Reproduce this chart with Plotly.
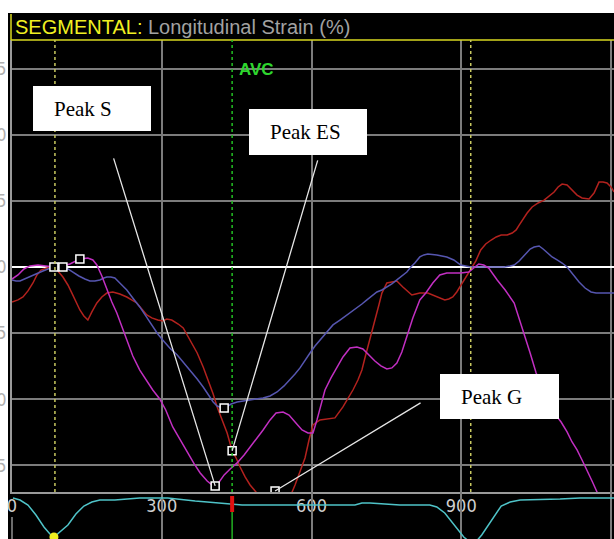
import plotly.graph_objects as go

# ---- segmental longitudinal strain traces (time in ms, strain in %) ----
red_t = [0, 12, 22, 32, 42, 50, 58, 70, 82, 92, 102, 112, 120, 128, 136, 144, 152, 160, 170, 180,
         190, 202, 216, 230, 240, 250, 260, 270, 280, 292, 302, 310, 320, 333, 343, 357, 371, 383,
         393, 403, 411, 421, 431, 441, 449, 457, 467, 477, 487, 497, 509, 527, 547, 557, 567, 577,
         587, 595, 603, 617, 633, 647, 663, 673, 683, 693, 701, 707, 713, 721, 727, 735, 741, 751,
         761, 771, 783, 793, 801, 809, 817, 833, 851, 867, 875, 883, 891, 897, 907, 919, 929, 939,
         949, 960, 970, 980, 992, 1002, 1010, 1016, 1022, 1032, 1042, 1054, 1066, 1076, 1086, 1094,
         1102, 1112, 1122, 1132, 1142, 1156, 1166, 1176, 1184, 1192, 1200, 1206]
red_v = [-2.65, -2.49, -2.27, -1.81, -1.21, -0.60, -0.23, -0.08, 0.0, -0.30, -0.76, -1.36, -1.97,
         -2.65, -3.25, -3.70, -4.01, -3.40, -2.72, -2.27, -1.97, -1.89, -2.04, -2.27, -2.49, -2.72,
         -3.17, -3.63, -3.85, -4.01, -4.08, -3.93, -4.01, -4.31, -4.61, -5.52, -6.50, -7.56, -8.54,
         -9.60, -10.58, -11.56, -12.55, -13.90, -14.44, -15.12, -15.87, -16.48, -16.93, -17.38,
         -17.76, -17.99, -17.84, -17.38, -16.48, -15.49, -14.44, -13.08, -11.94, -11.56, -11.49,
         -11.41, -10.58, -9.98, -9.30, -8.54, -7.79, -6.88, -6.05, -4.99, -4.01, -2.87, -1.97,
         -1.21, -1.13, -1.06, -1.51, -1.89, -2.12, -2.04, -1.97, -1.97, -2.27, -2.49, -2.42, -2.27,
         -1.89, -1.51, -0.98, -0.15, 0.45, 1.29, 1.74, 2.04, 2.27, 2.42, 2.42, 2.57, 2.80, 3.17,
         3.55, 4.08, 4.54, 4.84, 5.06, 5.37, 5.67, 6.05, 6.27, 6.20, 5.82, 5.44, 5.22, 5.14, 5.59,
         6.42, 6.42, 6.35, 6.05, 5.67]

blue_t = [0, 8, 16, 26, 36, 48, 62, 72, 82, 102, 112, 122, 134, 146, 156, 166, 176, 184, 190, 198,
          206, 218, 230, 242, 256, 268, 282, 292, 302, 316, 331, 345, 357, 371, 383, 393, 403, 411,
          421, 429, 439, 451, 463, 477, 491, 503, 517, 531, 545, 557, 567, 577, 587, 597, 607, 617,
          631, 643, 657, 671, 681, 691, 701, 711, 721, 731, 741, 751, 761, 771, 781, 791, 799, 807,
          817, 825, 833, 851, 871, 885, 899, 909, 919, 937, 968, 986, 998, 1006, 1016, 1030, 1038,
          1046, 1056, 1064, 1072, 1082, 1092, 1102, 1112, 1124, 1136, 1148, 1160, 1170, 1180, 1192,
          1206]
blue_v = [-0.98, -1.06, -1.06, -0.91, -0.76, -0.53, -0.30, -0.15, 0.0, 0.0, -0.15, -0.38, -0.68,
          -0.91, -1.06, -1.06, -0.98, -0.83, -0.76, -0.76, -0.83, -1.28, -1.74, -2.34, -3.02,
          -3.70, -4.54, -5.06, -5.52, -6.12, -6.65, -7.26, -7.79, -8.47, -9.07, -9.67, -10.20,
          -10.51, -10.66, -10.58, -10.36, -10.20, -10.13, -10.05, -9.98, -9.90, -9.75, -9.45,
          -8.99, -8.54, -8.09, -7.63, -7.11, -6.50, -5.97, -5.52, -4.91, -4.38, -4.01, -3.63,
          -3.40, -3.10, -2.80, -2.49, -2.19, -1.89, -1.74, -1.51, -1.28, -0.98, -0.68, -0.38, 0.0,
          0.30, 0.76, 0.91, 0.98, 0.91, 0.76, 0.53, 0.15, 0.08, 0.0, 0.0, 0.0, 0.0, 0.08, 0.15,
          0.45, 1.06, 1.36, 1.51, 1.59, 1.36, 1.06, 0.76, 0.53, 0.30, 0.0, -0.60, -1.13, -1.59,
          -1.89, -1.97, -1.97, -1.97, -1.97]

magenta_t = [0, 12, 24, 36, 52, 68, 84, 102, 116, 136, 152, 162, 170, 180, 190, 200, 210, 220, 230,
             242, 256, 270, 282, 296, 308, 322, 337, 351, 365, 377, 391, 401, 407, 415, 425, 437,
             451, 465, 477, 491, 503, 517, 529, 543, 555, 567, 581, 593, 603, 611, 619, 627, 639,
             651, 663, 677, 691, 703, 713, 727, 739, 751, 761, 771, 781, 791, 803, 817, 829, 843,
             857, 871, 885, 899, 915, 925, 935, 945, 955, 972, 988, 1006, 1016, 1026, 1038, 1050,
             1068, 1086, 1100, 1112, 1122, 1132, 1142, 1152, 1162, 1172, 1182]
magenta_v = [-0.91, -0.60, -0.15, 0.08, 0.15, 0.08, 0.0, 0.08, 0.23, 0.60, 0.68, 0.53, 0.15, -0.68,
             -1.74, -2.65, -3.48, -4.54, -5.52, -6.73, -7.79, -8.62, -9.30, -9.98, -10.81, -12.09,
             -13.08, -14.06, -14.89, -15.57, -16.18, -16.48, -16.55, -16.25, -15.72, -15.27,
             -14.81, -14.21, -13.61, -13.00, -12.32, -11.56, -11.04, -10.96, -11.19, -11.72,
             -12.32, -12.55, -12.55, -11.56, -10.43, -9.30, -8.39, -7.56, -6.80, -6.12, -6.05,
             -6.20, -6.58, -7.11, -7.48, -7.71, -7.63, -7.26, -6.43, -5.29, -3.85, -2.49, -1.97,
             -1.21, -0.60, -0.45, -0.45, -0.45, -0.38, -0.08, 0.23, 0.15, -0.08, -0.98, -1.74,
             -2.72, -3.85, -4.99, -6.50, -8.01, -9.52, -11.04, -11.72, -12.47, -13.23, -13.83,
             -14.59, -15.34, -16.18, -17.01, -17.84]

# peak markers picked by the tracking software
peak_t = [84, 102, 136, 425, 441, 407, 527]
peak_v = [0.0, 0.0, 0.6, -10.66, -13.9, -16.55, -16.93]

# ECG lead (arbitrary amplitude units)
ecg_t = [2, 16, 32, 48, 64, 76, 84, 96, 112, 128, 144, 160, 176, 206, 236, 256, 312, 327, 341, 367,
         391, 417, 447, 461, 563, 637, 687, 701, 717, 747, 777, 837, 851, 867, 881, 893, 905, 917,
         929, 941, 953, 968, 980, 998, 1018, 1098, 1138, 1206]
ecg_v = [0.5, 0.3, -0.2, -1.2, -2.4, -3.1, -3.4, -2.9, -2.2, -1.1, -0.3, 0.1, 0.3, 0.3, 0.4, 0.5,
         0.5, 0.4, 0.3, 0.2, 0.1, 0.0, -0.1, -0.2, -0.2, -0.2, -0.2, 0.0, 0.0, -0.1, -0.2, -0.2,
         -0.4, -1.0, -1.9, -2.7, -3.4, -3.9, -3.9, -3.2, -2.3, -1.2, -0.3, 0.1, 0.3, 0.4, 0.5, 0.5]
ecg_dot_t = [84]
ecg_dot_v = [-3.4]

# cardiac events (ms)
event_t = [86, 919]
avc_t = 441

x_ticks = [0, 300, 600, 900, 1200]
x_labels = ["0", "300", "600", "900", "1200"]
y_ticks = [-15, -10, -5, 0, 5, 10, 15]
y_labels = ["-15", "-10", "-5", "0", "5", "10", "15"]

W, H = 614, 539


def fx(p):
    return p / W


def fy(p):
    return 1 - p / H


fig = go.Figure()

for t, v, c in [(red_t, red_v, "#b3221e"), (blue_t, blue_v, "#5656b0"),
                (magenta_t, magenta_v, "#c22fc2")]:
    fig.add_trace(go.Scatter(x=t, y=v, mode="lines", line=dict(color=c, width=1.5),
                             hoverinfo="skip", showlegend=False))

fig.add_trace(go.Scatter(x=peak_t, y=peak_v, mode="markers",
                         marker=dict(symbol="square", size=8, color="black",
                                     line=dict(color="white", width=1.5)),
                         hoverinfo="skip", showlegend=False))

fig.add_trace(go.Scatter(x=ecg_t, y=ecg_v, yaxis="y2", mode="lines",
                         line=dict(color="#4fc3c8", width=1.5), hoverinfo="skip",
                         showlegend=False))
fig.add_trace(go.Scatter(x=ecg_dot_t, y=ecg_dot_v, yaxis="y2", mode="markers",
                         marker=dict(size=9, color="#f0f020"), hoverinfo="skip",
                         showlegend=False, cliponaxis=False))

shapes = [
    # dark screen area
    dict(type="rect", xref="paper", yref="paper", x0=fx(8), x1=1, y0=0, y1=fy(13),
         fillcolor="black", line_width=0, layer="below"),
    # title bar frame
    dict(type="line", xref="paper", yref="paper", x0=fx(11), x1=fx(11), y0=fy(14), y1=fy(40),
         line=dict(color="#d8d820", width=1.5)),
    dict(type="line", xref="paper", yref="paper", x0=fx(11), x1=1, y0=fy(40), y1=fy(40),
         line=dict(color="#d8d820", width=1.5)),
    # ECG strip left edge
    dict(type="line", xref="paper", yref="paper", x0=fx(12), x1=fx(12), y0=0, y1=fy(517),
         line=dict(color="#909090", width=1.5)),
]
for t in event_t:
    shapes.append(dict(type="line", xref="x", yref="y domain", x0=t, x1=t, y0=0, y1=1,
                       line=dict(color="#c8c860", width=1.5, dash="3px,3px")))
shapes.append(dict(type="line", xref="x", yref="y domain", x0=avc_t, x1=avc_t, y0=0, y1=1,
                   line=dict(color="#22c022", width=1.5, dash="3px,3px")))
shapes.append(dict(type="line", xref="x", yref="y2", x0=avc_t, x1=avc_t, y0=-3.6, y1=-0.9,
                   line=dict(color="#22b022", width=1.5)))
shapes.append(dict(type="line", xref="x", yref="y2", x0=avc_t, x1=avc_t, y0=-0.9, y1=0.7,
                   line=dict(color="#e01010", width=4)))

# label boxes
boxes = [("Peak S", 33, 151, 86, 131), ("Peak ES", 249, 367, 109, 155),
         ("Peak G", 440, 559, 374, 419)]
annotations = []
for text, x0, x1, y0, y1 in boxes:
    shapes.append(dict(type="rect", xref="paper", yref="paper", x0=fx(x0), x1=fx(x1),
                       y0=fy(y1), y1=fy(y0), fillcolor="white", line_width=0, layer="above"))
    annotations.append(dict(xref="paper", yref="paper", x=fx(x0 + 19), y=fy((y0 + y1) / 2),
                            xanchor="left", yanchor="middle", text=text, showarrow=False,
                            font=dict(family="Liberation Serif, Times New Roman", size=21,
                                      color="black")))

# leader lines from the labels to the picked peaks
for px_t, px_v, ax, ay in [(peak_t[5], peak_v[5], -102, -329),
                           (peak_t[4], peak_v[4], 86, -292),
                           (peak_t[6], peak_v[6], 147, -89)]:
    annotations.append(dict(x=px_t, y=px_v, xref="x", yref="y", ax=ax, ay=ay, text="",
                            showarrow=True, arrowhead=0, arrowwidth=1.3,
                            arrowcolor="#e6e6e6", standoff=0))

annotations.append(dict(xref="x", yref="paper", x=avc_t, y=fy(69), xshift=5, xanchor="left",
                        yanchor="middle", text="<b>AVC</b>", showarrow=False,
                        font=dict(family="Liberation Sans, Arial", size=17, color="#2ed62e")))
annotations.append(dict(xref="paper", yref="paper", x=fx(13), y=fy(27), xanchor="left",
                        yanchor="middle", showarrow=False,
                        text="<span style='color:#f0f022'>SEGMENTAL:</span> Longitudinal Strain (%)",
                        font=dict(family="Liberation Sans, Arial", size=20, color="#a2a2a2")))

fig.update_layout(
    width=W, height=H, autosize=False,
    margin=dict(l=0, r=0, t=0, b=0),
    paper_bgcolor="white", plot_bgcolor="black",
    shapes=shapes, annotations=annotations,
    xaxis=dict(domain=[fx(12), 1], range=[0, 1206], anchor="y", automargin=False,
               tickvals=x_ticks, ticktext=x_labels, ticks="", layer="below traces",
               showgrid=True, gridcolor="#7c7c7c", gridwidth=1.5,
               showline=True, linecolor="#9a9a9a", linewidth=2, zeroline=False,
               tickfont=dict(family="DejaVu Sans Condensed, DejaVu Sans", size=18,
                             color="#cfcfcf"),
               ticklabelstandoff=-4),
    yaxis=dict(domain=[fy(492), fy(40)], range=[-17.01, 17.16], anchor="x", automargin=False,
               tickvals=y_ticks, ticktext=y_labels, ticks="",
               showgrid=True, gridcolor="#7c7c7c", gridwidth=1.5,
               zeroline=True, zerolinecolor="white", zerolinewidth=2,
               showline=True, linecolor="#9a9a9a", linewidth=1.5,
               tickfont=dict(family="DejaVu Sans Condensed, DejaVu Sans", size=18,
                             color="#b0b0b0")),
    yaxis2=dict(domain=[0, fy(492)], range=[-3.6, 1.1], anchor="x", visible=False),
)

fig.write_html("out.html")
